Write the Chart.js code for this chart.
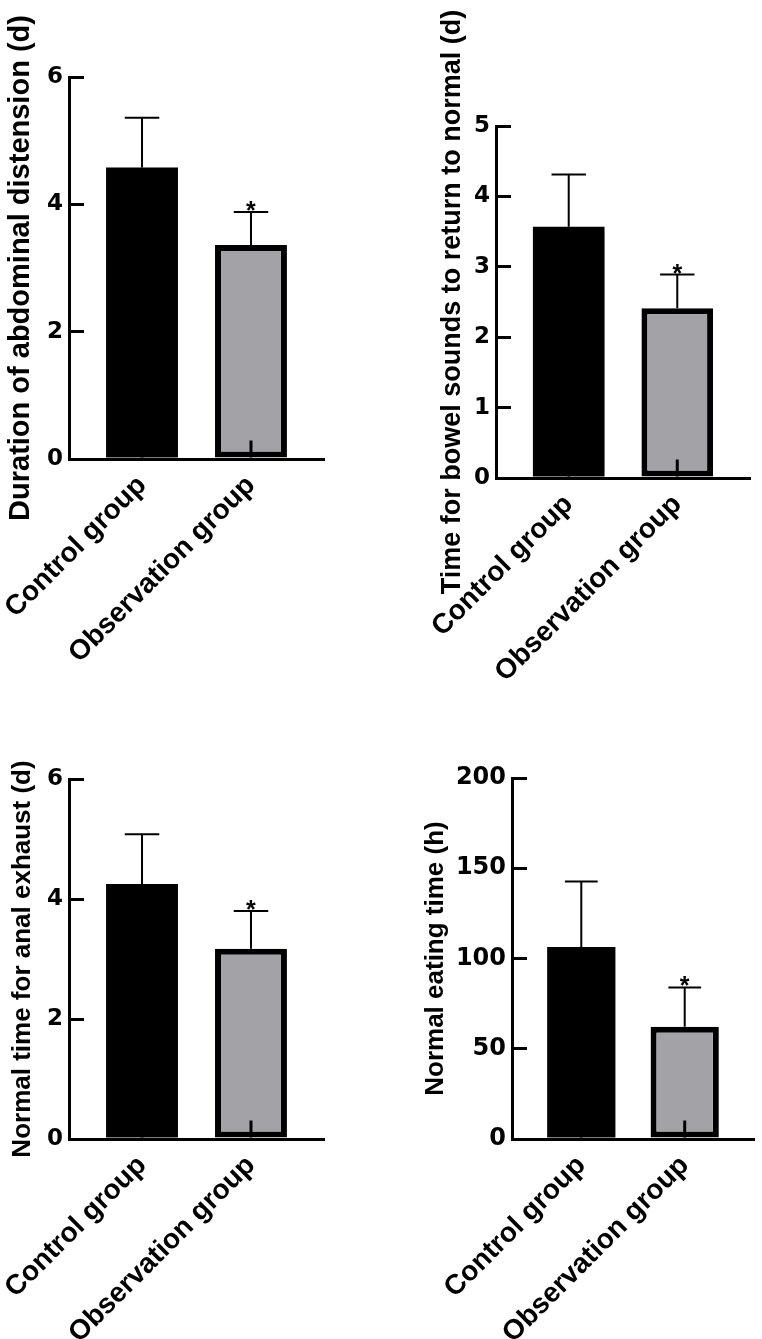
<!DOCTYPE html>
<html>
<head>
<meta charset="utf-8">
<script src="https://cdn.jsdelivr.net/npm/chart.js@4.4.1/dist/chart.umd.min.js"></script>
<style>
  body { margin: 0; background: #fff; width: 762px; height: 1339px; position: relative; overflow: hidden; }
  .panel { position: absolute; }
</style>
</head>
<body>
<div class="panel" style="left:0;top:0;width:381px;height:720px"><canvas id="c1"></canvas></div>
<div class="panel" style="left:420px;top:0;width:342px;height:720px"><canvas id="c2"></canvas></div>
<div class="panel" style="left:0;top:700px;width:381px;height:639px"><canvas id="c3"></canvas></div>
<div class="panel" style="left:420px;top:700px;width:342px;height:639px"><canvas id="c4"></canvas></div>
<script>
const groups = ['Control group', 'Observation group'];
const marks = ['', '*'];

const distensionMean = [4.58, 3.36];
const distensionSD = [0.78, 0.52];
const distensionTicks = [0, 2, 4, 6];

const bowelMean = [3.57, 2.41];
const bowelSD = [0.74, 0.48];
const bowelTicks = [0, 1, 2, 3, 4, 5];

const exhaustMean = [4.25, 3.17];
const exhaustSD = [0.83, 0.63];
const exhaustTicks = [0, 2, 4, 6];

const eatingMean = [106.4, 62.2];
const eatingSD = [36.2, 21.8];
const eatingTicks = [0, 50, 100, 150, 200];

const FONT = '"Liberation Sans", Arial, sans-serif';
const TICK_FONT = '"DejaVu Sans", sans-serif';

// mean + SD whiskers, the short stub at the base and the significance mark
const errorBars = {
  id: 'errorBars',
  afterDatasetsDraw(chart) {
    const ctx = chart.ctx;
    const yScale = chart.scales.y;
    const ds = chart.data.datasets[0];
    ctx.save();
    ctx.strokeStyle = '#000';
    ctx.fillStyle = '#000';
    chart.getDatasetMeta(0).data.forEach((bar, i) => {
      const { x, y, base, width } = bar.getProps(['x', 'y', 'base', 'width'], true);
      const top = yScale.getPixelForValue(ds.mean[i] + ds.sd[i]);
      const half = width * 0.24;
      ctx.lineWidth = 2;
      ctx.beginPath();
      ctx.moveTo(x, y);
      ctx.lineTo(x, top);
      ctx.moveTo(x - half, top);
      ctx.lineTo(x + half, top);
      ctx.stroke();

      ctx.lineWidth = 3;
      ctx.beginPath();
      ctx.moveTo(x, base);
      ctx.lineTo(x, base - 17);
      ctx.stroke();

      if (ds.marks[i]) {
        ctx.font = 'bold 25px ' + FONT;
        ctx.textAlign = 'center';
        ctx.textBaseline = 'alphabetic';
        ctx.fillText(ds.marks[i], x, top + 7);
      }
    });
    ctx.restore();
  }
};

function makeChart(p) {
  const last = p.ticks[p.ticks.length - 1];
  return new Chart(document.getElementById(p.canvas), {
    type: 'bar',
    data: {
      datasets: [{
        data: p.mean.map((v, i) => ({ x: i, y: v })),
        mean: p.mean,
        sd: p.sd,
        marks: marks,
        backgroundColor: ['#000000', '#a3a3a7'],
        borderColor: '#000000',
        borderWidth: [0, 6],
        borderSkipped: false,
        barPercentage: 0.66,
        categoryPercentage: 1
      }]
    },
    options: {
      responsive: true,
      maintainAspectRatio: false,
      devicePixelRatio: 1,
      animation: false,
      layout: { padding: { top: p.padTop, right: p.padRight, left: 0, bottom: 0 } },
      plugins: {
        legend: { display: false },
        tooltip: { enabled: false }
      },
      scales: {
        x: {
          type: 'linear',
          offset: false,
          min: -0.67,
          max: 1.67,
          afterBuildTicks: s => { s.ticks = groups.map((g, i) => ({ value: i })); },
          afterFit: s => { s.height = p.xHeight; s.paddingLeft = 0; s.paddingRight = 0; },
          grid: { display: false, offset: false },
          border: { display: true, color: '#000', width: 3 },
          ticks: {
            callback: v => groups[v],
            autoSkip: false,
            minRotation: 45,
            maxRotation: 45,
            padding: 2,
            labelOffset: 0,
            color: '#000',
            font: { family: FONT, weight: 'bold', size: 28 }
          }
        },
        y: {
          min: 0,
          max: last,
          afterBuildTicks: s => { s.ticks = p.ticks.map(v => ({ value: v })); },
          afterFit: s => { s.width = p.yWidth; },
          grid: {
            drawOnChartArea: false,
            drawTicks: true,
            tickLength: -15,
            lineWidth: 3,
            color: '#000'
          },
          border: { display: true, color: '#000', width: 3 },
          ticks: {
            padding: 21,
            color: '#000',
            font: { family: TICK_FONT, weight: 'bold', size: p.tickSize }
          },
          title: {
            display: true,
            text: p.title,
            color: '#000',
            padding: { top: p.titlePad, bottom: 0 },
            font: { family: FONT, weight: 'bold', size: p.titleSize }
          }
        }
      }
    },
    plugins: [errorBars]
  });
}

[
  { canvas: 'c1', mean: distensionMean, sd: distensionSD, ticks: distensionTicks,
    title: 'Duration of abdominal distension (d)', titleSize: 29, titlePad: 4, tickSize: 23,
    yWidth: 69, xHeight: 261, padTop: 77, padRight: 57 },
  { canvas: 'c2', mean: bowelMean, sd: bowelSD, ticks: bowelTicks,
    title: 'Time for bowel sounds to return to normal (d)', titleSize: 27, titlePad: 16, tickSize: 23,
    yWidth: 76, xHeight: 242, padTop: 126, padRight: 12 },
  { canvas: 'c3', mean: exhaustMean, sd: exhaustSD, ticks: exhaustTicks,
    title: 'Normal time for anal exhaust (d)', titleSize: 26, titlePad: 7, tickSize: 23,
    yWidth: 69, xHeight: 200, padTop: 79, padRight: 57 },
  { canvas: 'c4', mean: eatingMean, sd: eatingSD, ticks: eatingTicks,
    title: 'Normal eating time (h)', titleSize: 26, titlePad: 0, tickSize: 24,
    yWidth: 92, xHeight: 200, padTop: 78, padRight: 8 }
].forEach(makeChart);
</script>
</body>
</html>
